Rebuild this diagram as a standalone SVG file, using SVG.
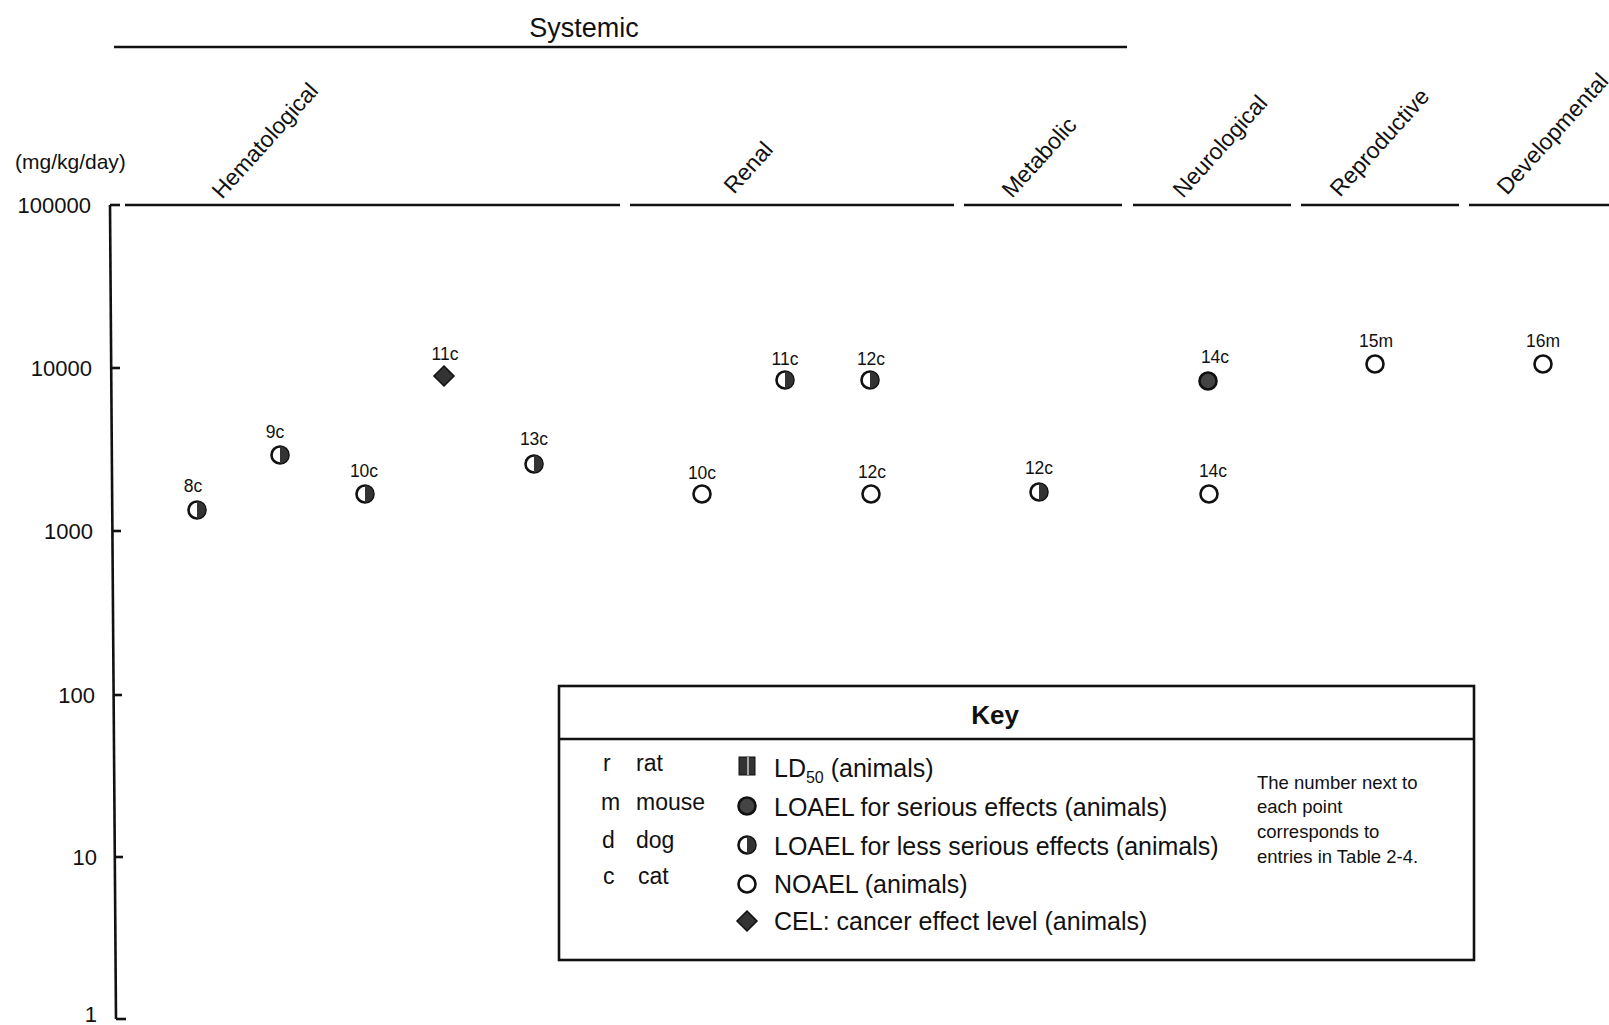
<svg xmlns="http://www.w3.org/2000/svg" width="1609" height="1025" viewBox="0 0 1609 1025">
<style>
text{font-family:"Liberation Sans",Arial,sans-serif;fill:#111}
.tick{font-size:22px;text-anchor:end}
.cat{font-size:23px}
.lab{font-size:17.5px;text-anchor:middle}
.key{font-size:25px}
.sp{font-size:23px}
.note{font-size:18.5px}
.ln{stroke:#111;stroke-width:2.6;fill:none}
</style>
<defs>
<g id="half"><circle r="8.5" fill="#fff" stroke="#111" stroke-width="2.6"/><path d="M0,-8.5 A8.5,8.5 0 0 1 0,8.5 Z" fill="#333"/></g>
<g id="open"><circle r="8.5" fill="#fff" stroke="#111" stroke-width="2.6"/></g>
<g id="full"><circle r="8.5" fill="#444" stroke="#111" stroke-width="2.6"/></g>
<g id="dia"><polygon points="0,-10 10,0 0,10 -10,0" fill="#333" stroke="#111" stroke-width="1.5"/></g>
<g id="ld"><rect x="-8" y="-9" width="16" height="18" fill="#333" stroke="#111" stroke-width="1"/><line x1="1" y1="-9" x2="1" y2="9" stroke="#ccc" stroke-width="1.5"/></g>
</defs>

<g id="headers">
<text x="584" y="37" style="font-size:27px" text-anchor="middle">Systemic</text>
<line class="ln" x1="114" y1="47" x2="1127" y2="47"/>
<text x="15" y="169" style="font-size:21px">(mg/kg/day)</text>
</g>

<g id="categories">
<text class="cat" transform="translate(222,200) rotate(-48)">Hematological</text>
<text class="cat" transform="translate(734,195) rotate(-48)">Renal</text>
<text class="cat" transform="translate(1012,199) rotate(-48)">Metabolic</text>
<text class="cat" transform="translate(1183,199) rotate(-48)">Neurological</text>
<text class="cat" transform="translate(1340,198) rotate(-48)">Reproductive</text>
<text class="cat" transform="translate(1507,196) rotate(-48)">Developmental</text>
</g>

<g id="axis">
<line class="ln" x1="110" y1="205" x2="116" y2="1019"/>
<line class="ln" x1="110" y1="205" x2="120" y2="205"/>
<line class="ln" x1="111" y1="368" x2="120" y2="368"/>
<line class="ln" x1="112" y1="531" x2="121" y2="531"/>
<line class="ln" x1="113" y1="695" x2="122" y2="695"/>
<line class="ln" x1="114" y1="857" x2="123" y2="857"/>
<line class="ln" x1="116" y1="1019" x2="126" y2="1019"/>
<text class="tick" x="91" y="213">100000</text>
<text class="tick" x="92" y="376">10000</text>
<text class="tick" x="93" y="539">1000</text>
<text class="tick" x="95" y="703">100</text>
<text class="tick" x="97" y="865">10</text>
<text class="tick" x="97" y="1022">1</text>
</g>

<g id="connectors">
<line class="ln" x1="125" y1="205" x2="620" y2="205"/>
<line class="ln" x1="630" y1="205" x2="954" y2="205"/>
<line class="ln" x1="964" y1="205" x2="1122" y2="205"/>
<line class="ln" x1="1133" y1="205" x2="1291" y2="205"/>
<line class="ln" x1="1301" y1="205" x2="1459" y2="205"/>
<line class="ln" x1="1469" y1="205" x2="1609" y2="205"/>
</g>

<g id="p8c"><text class="lab" x="193" y="492">8c</text><use href="#half" x="197" y="510"/></g>
<g id="p9c"><text class="lab" x="275" y="438">9c</text><use href="#half" x="280" y="455"/></g>
<g id="p10c-h"><text class="lab" x="364" y="477">10c</text><use href="#half" x="365" y="494"/></g>
<g id="p11c-h"><text class="lab" x="445" y="360">11c</text><use href="#dia" x="444" y="376"/></g>
<g id="p13c"><text class="lab" x="534" y="445">13c</text><use href="#half" x="534" y="464"/></g>
<g id="p10c-r"><text class="lab" x="702" y="479">10c</text><use href="#open" x="702" y="494"/></g>
<g id="p11c-r"><text class="lab" x="785" y="365">11c</text><use href="#half" x="785" y="380"/></g>
<g id="p12c-r1"><text class="lab" x="871" y="365">12c</text><use href="#half" x="870" y="380"/></g>
<g id="p12c-r2"><text class="lab" x="872" y="478">12c</text><use href="#open" x="871" y="494"/></g>
<g id="p12c-m"><text class="lab" x="1039" y="474">12c</text><use href="#half" x="1039" y="492"/></g>
<g id="p14c-n1"><text class="lab" x="1215" y="363">14c</text><use href="#full" x="1208" y="381"/></g>
<g id="p14c-n2"><text class="lab" x="1213" y="477">14c</text><use href="#open" x="1209" y="494"/></g>
<g id="p15m"><text class="lab" x="1376" y="347">15m</text><use href="#open" x="1375" y="364"/></g>
<g id="p16m"><text class="lab" x="1543" y="347">16m</text><use href="#open" x="1543" y="364"/></g>

<g id="key">
<rect x="559" y="686" width="915" height="274" fill="none" stroke="#111" stroke-width="2.6"/>
<line class="ln" x1="559" y1="739" x2="1474" y2="739"/>
<text x="995" y="724" text-anchor="middle" style="font-size:26px;font-weight:bold">Key</text>
<text class="sp" x="603" y="771">r</text><text class="sp" x="636" y="771">rat</text>
<text class="sp" x="601" y="810">m</text><text class="sp" x="636" y="810">mouse</text>
<text class="sp" x="602" y="848">d</text><text class="sp" x="636" y="848">dog</text>
<text class="sp" x="603" y="884">c</text><text class="sp" x="638" y="884">cat</text>
<use href="#ld" x="747" y="766"/>
<use href="#full" x="747" y="806"/>
<use href="#half" x="747" y="845"/>
<use href="#open" x="747" y="884"/>
<use href="#dia" x="747" y="921"/>
<text class="key" x="774" y="777">LD<tspan style="font-size:16px" dy="6">50</tspan><tspan dy="-6"> (animals)</tspan></text>
<text class="key" x="774" y="816">LOAEL for serious effects (animals)</text>
<text class="key" x="774" y="855">LOAEL for less serious effects (animals)</text>
<text class="key" x="774" y="893">NOAEL (animals)</text>
<text class="key" x="774" y="930">CEL: cancer effect level (animals)</text>
<text class="note" x="1257" y="789">The number next to</text>
<text class="note" x="1257" y="813">each point</text>
<text class="note" x="1257" y="838">corresponds to</text>
<text class="note" x="1257" y="863">entries in Table 2-4.</text>
</g>
</svg>
